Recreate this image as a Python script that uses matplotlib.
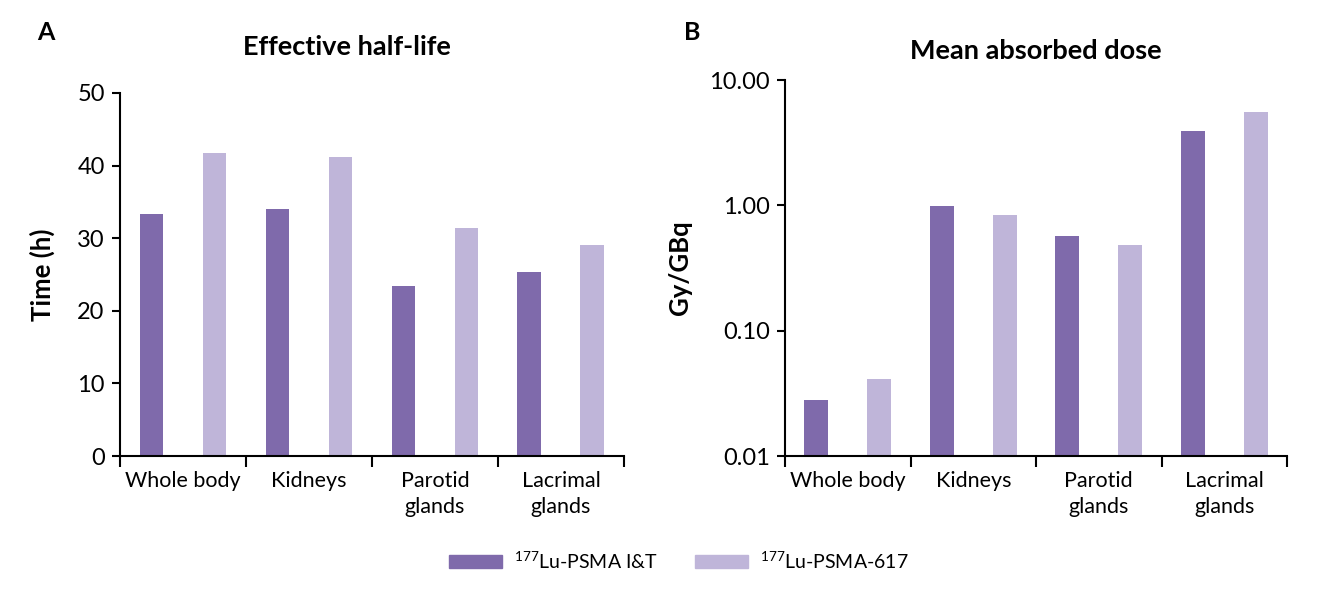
import numpy as np
import matplotlib
matplotlib.use("Agg")
import matplotlib.pyplot as plt
from matplotlib.patches import Patch

plt.rcParams['font.family'] = ['Lato', 'DejaVu Sans']
plt.rcParams['mathtext.fontset'] = 'custom'
plt.rcParams['mathtext.rm'] = 'Lato'

# data
organs = ['Whole body', 'Kidneys', 'Parotid\nglands', 'Lacrimal\nglands']
halflife_it = [33.3, 34.0, 23.4, 25.3]
halflife_617 = [41.8, 41.2, 31.4, 29.1]
dose_it = [0.028, 0.99, 0.57, 3.93]
dose_617 = [0.041, 0.84, 0.48, 5.56]
series_names = ['$^{177}$Lu-PSMA I&T', '$^{177}$Lu-PSMA-617']

dark = '#7f6aab'
light = '#bfb5d9'

fig = plt.figure(figsize=(13.2, 5.95), dpi=100)
axA = fig.add_axes([0.0909, 0.2336, 0.3818, 0.6101])
axB = fig.add_axes([0.5947, 0.2336, 0.3803, 0.6319])

x = np.arange(len(organs)) + 0.5
w = 0.19


def style(ax):
	ax.spines['top'].set_visible(False)
	ax.spines['right'].set_visible(False)
	ax.spines['left'].set_linewidth(1.5)
	ax.spines['bottom'].set_linewidth(1.5)
	ax.set_xlim(0, len(organs))
	ax.set_xticks(x)
	ax.set_xticklabels(organs, fontsize=15.5, linespacing=1.35)
	ax.set_xticks(np.arange(len(organs) + 1), minor=True)
	ax.tick_params(axis='x', which='major', length=0, pad=11)
	ax.tick_params(axis='x', which='minor', length=8, width=1.5, direction='out')
	ax.tick_params(axis='y', which='major', length=6, width=1.5, labelsize=17, pad=5)
	ax.tick_params(axis='y', which='minor', length=0)


# panel A
axA.bar(x - 0.25, halflife_it, w, color=dark)
axA.bar(x + 0.25, halflife_617, w, color=light)
axA.set_ylim(0, 50)
axA.set_yticks([0, 10, 20, 30, 40, 50])
style(axA)
axA.set_ylabel('Time (h)', fontsize=18.5, fontweight='bold', labelpad=16)
axA.set_title('Effective half-life', fontsize=19.5, fontweight='bold', pad=27, x=0.45)

# panel B
axB.bar(x - 0.25, dose_it, w, color=dark)
axB.bar(x + 0.25, dose_617, w, color=light)
axB.set_yscale('log')
axB.set_ylim(0.01, 10)
axB.set_yticks([0.01, 0.1, 1, 10])
axB.set_yticklabels(['0.01', '0.10', '1.00', '10.00'])
style(axB)
axB.set_ylabel('Gy/GBq', fontsize=18.5, fontweight='bold', labelpad=12)
axB.set_title('Mean absorbed dose', fontsize=19.5, fontweight='bold', pad=15)

fig.text(0.028, 0.945, 'A', fontsize=18, fontweight='bold', va='center')
fig.text(0.518, 0.945, 'B', fontsize=18, fontweight='bold', va='center')

handles = [Patch(color=dark, label=series_names[0]), Patch(color=light, label=series_names[1])]
fig.legend(handles=handles, loc='center', bbox_to_anchor=(0.514, 0.058), ncol=2, frameon=False,
	fontsize=14, handlelength=2.75, handleheight=0.62, columnspacing=1.9, handletextpad=0.6)

fig.savefig('out.png', dpi=100)
